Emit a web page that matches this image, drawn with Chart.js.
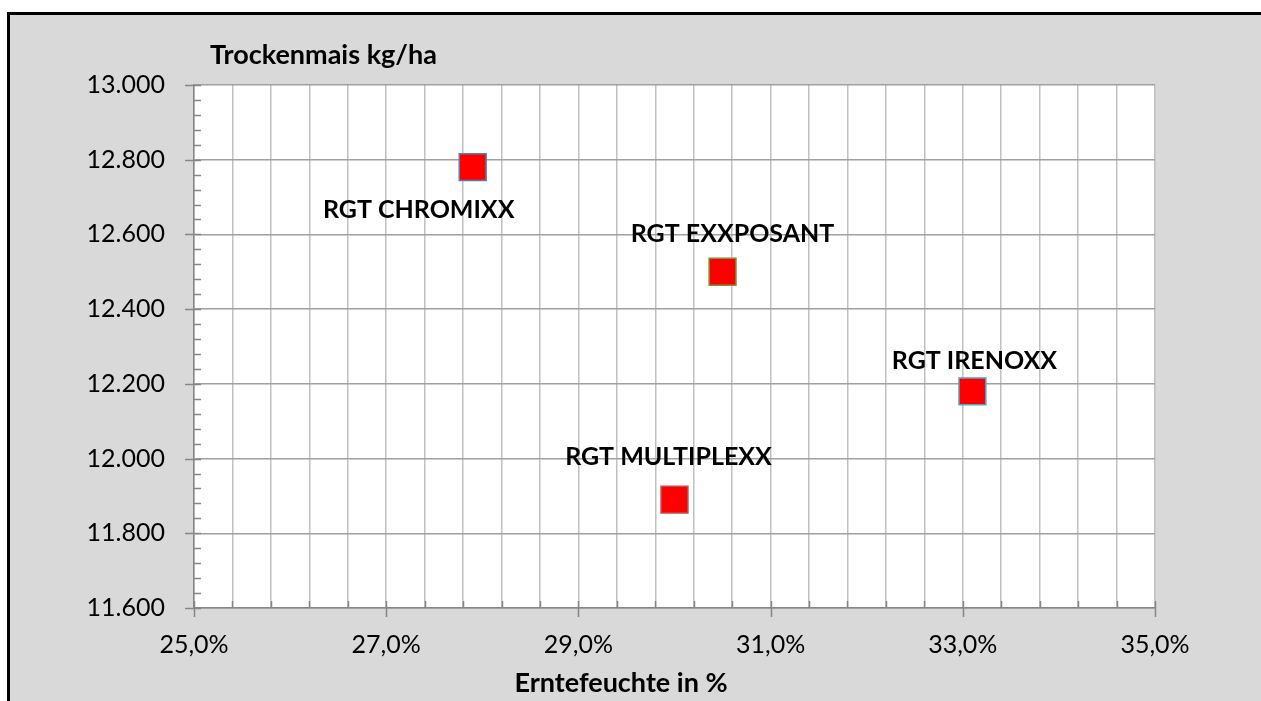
<!DOCTYPE html>
<html>
<head>
<meta charset="utf-8">
<script src="https://cdn.jsdelivr.net/npm/chart.js@4.4.1/dist/chart.umd.min.js"></script>
<style>
  html, body { margin: 0; padding: 0; background: #ffffff; overflow: hidden; }
  canvas { display: block; }
</style>
</head>
<body>
<canvas id="c" width="1261" height="701"></canvas>
<script>
// ---- data ----
const categories = ['RGT CHROMIXX', 'RGT EXXPOSANT', 'RGT IRENOXX', 'RGT MULTIPLEXX'];
const moisture = [27.9, 30.5, 33.1, 30.0];          // Erntefeuchte in %
const yieldKg = [12780, 12500, 12180, 11890];       // Trockenmais kg/ha
const xTickValues = [25, 27, 29, 31, 33, 35];
const xTickLabels = ['25,0%', '27,0%', '29,0%', '31,0%', '33,0%', '35,0%'];
const yTickValues = [11600, 11800, 12000, 12200, 12400, 12600, 12800, 13000];
const yTickLabels = ['11.600', '11.800', '12.000', '12.200', '12.400', '12.600', '12.800', '13.000'];
const yAxisTitle = 'Trockenmais kg/ha';
const xAxisTitle = 'Erntefeuchte in %';

// ---- styling ----
const FONT = 'Lato';
const pointBorders = ['#4F81BD', '#77933C', '#4BACC6', '#C0504D'];
const labelOffsets = [[-54, 42], [10, -39], [2, -31], [-6, -44]];
const xGridStep = 0.4, yMinorStep = 40;

const points = moisture.map((m, i) => ({ x: m, y: yieldKg[i] }));

const plotBg = {
  id: 'plotBg',
  beforeDraw(chart) {
    const { ctx, chartArea: a, width, height } = chart;
    ctx.save();
    ctx.fillStyle = '#ffffff';
    ctx.fillRect(0, 0, width, height);
    ctx.fillStyle = '#D9D9D9';
    ctx.fillRect(10, 15, width - 10, height - 15);
    ctx.fillStyle = '#000000';
    ctx.fillRect(7, 12, width - 7, 3);
    ctx.fillRect(7, 12, 3, height - 12);
    ctx.fillStyle = '#ffffff';
    ctx.fillRect(a.left, a.top, a.right - a.left, a.bottom - a.top);
    ctx.restore();
  }
};

const tickMarks = {
  id: 'tickMarks',
  beforeDatasetsDraw(chart) {
    const { ctx, scales: { x, y }, chartArea: a } = chart;
    ctx.save();
    ctx.strokeStyle = '#868686';
    ctx.lineWidth = 1.5;
    ctx.beginPath();
    x.ticks.forEach(t => {
      const px = Math.round(x.getPixelForValue(t.value)) + 0.5;
      ctx.moveTo(px, a.bottom - 7); ctx.lineTo(px, a.bottom);
    });
    xTickValues.forEach(v => {
      const px = Math.round(x.getPixelForValue(v)) + 0.5;
      ctx.moveTo(px, a.bottom); ctx.lineTo(px, a.bottom + 9);
    });
    for (let v = y.min; v <= y.max + 0.01; v += yMinorStep) {
      const py = Math.round(y.getPixelForValue(v)) + 0.5;
      ctx.moveTo(a.left, py); ctx.lineTo(a.left + 7, py);
    }
    yTickValues.forEach(v => {
      const py = Math.round(y.getPixelForValue(v)) + 0.5;
      ctx.moveTo(a.left - 9, py); ctx.lineTo(a.left, py);
    });
    ctx.stroke();
    ctx.restore();
  }
};

const textLayer = {
  id: 'textLayer',
  afterDatasetsDraw(chart) {
    const { ctx } = chart;
    const meta = chart.getDatasetMeta(0);
    ctx.save();
    ctx.fillStyle = '#000';
    ctx.textAlign = 'center';
    ctx.textBaseline = 'alphabetic';
    let sz = 25;
    ctx.font = 'bold ' + sz + 'px ' + FONT;
    meta.data.forEach((el, i) => {
      const [dx, dy] = labelOffsets[i];
      ctx.fillText(categories[i], el.x + dx, el.y + dy + 0.358 * sz);
    });
    sz = 27;
    ctx.font = 'bold ' + sz + 'px ' + FONT;
    ctx.textAlign = 'left';
    ctx.fillText(yAxisTitle, 210, 54 + 0.358 * sz);
    ctx.textAlign = 'center';
    ctx.fillText(xAxisTitle, 621, 682 + 0.358 * sz);
    ctx.restore();
  }
};

new Chart(document.getElementById('c'), {
  type: 'scatter',
  data: {
    datasets: [{
      label: yAxisTitle,
      data: points,
      pointStyle: 'rect',
      pointRadius: 19,
      pointHoverRadius: 19,
      backgroundColor: '#FF0000',
      borderColor: pointBorders,
      pointBorderWidth: 1.5,
      borderWidth: 1.5
    }]
  },
  options: {
    responsive: false,
    animation: false,
    events: [],
    layout: { padding: { left: 0, top: 85, right: 106, bottom: 0 } },
    plugins: { legend: { display: false }, tooltip: { enabled: false }, title: { display: false } },
    scales: {
      x: {
        type: 'linear', min: 25, max: 35,
        afterBuildTicks(scale) {
          const t = [];
          for (let i = 0; i <= Math.round((35 - 25) / xGridStep); i++) t.push({ value: +(25 + i * xGridStep).toFixed(2) });
          scale.ticks = t;
        },
        afterFit(scale) { scale.height = 93; },
        ticks: {
          autoSkip: false, maxRotation: 0, padding: 22,
          color: '#000', font: { family: FONT, size: 25 },
          callback(v) {
            const k = xTickValues.findIndex(t => Math.abs(t - v) < 1e-6);
            return k >= 0 ? xTickLabels[k] : '';
          }
        },
        grid: { color: '#C0C0C0', lineWidth: 1.5, drawTicks: false },
        border: { color: '#868686', width: 1.5 }
      },
      y: {
        min: 11600, max: 13000,
        afterBuildTicks(scale) { scale.ticks = yTickValues.map(v => ({ value: v })); },
        afterFit(scale) { scale.width = 194; },
        ticks: {
          padding: 29, color: '#000', font: { family: FONT, size: 25 },
          callback(v) {
            const k = yTickValues.indexOf(v);
            return k >= 0 ? yTickLabels[k] : '';
          }
        },
        grid: { color: '#A0A0A0', lineWidth: 1.5, drawTicks: false },
        border: { color: '#868686', width: 1.5 }
      }
    }
  },
  plugins: [plotBg, tickMarks, textLayer]
});
</script>
</body>
</html>
